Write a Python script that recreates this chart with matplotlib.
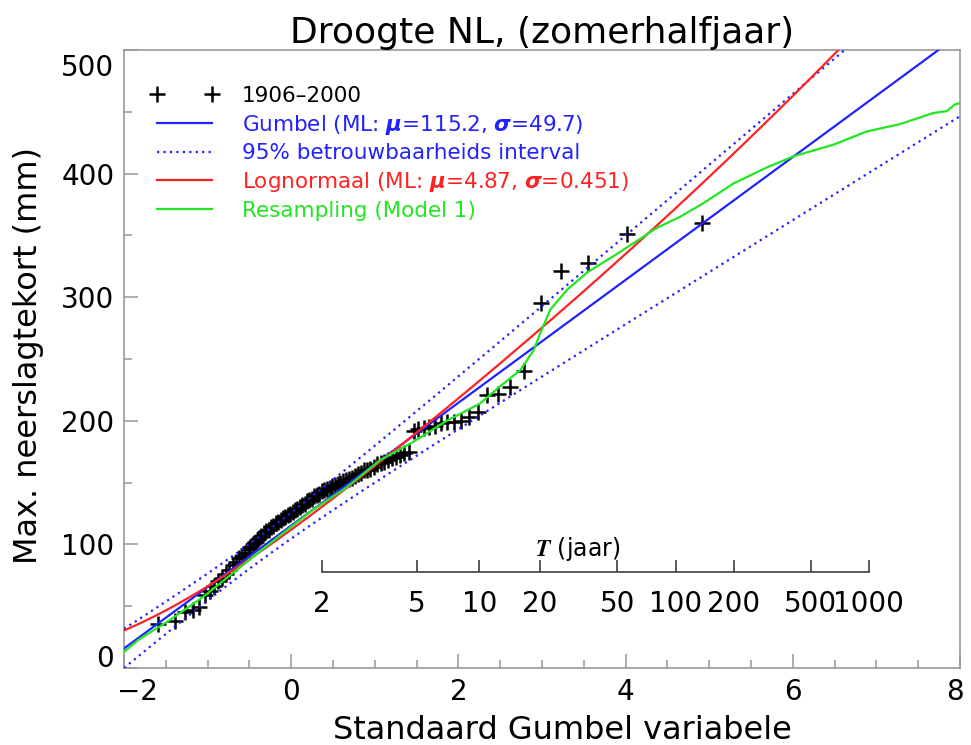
import math
import numpy as np
import matplotlib
matplotlib.use("Agg")
import matplotlib.pyplot as plt
import matplotlib.transforms as mtransforms
from matplotlib.ticker import MultipleLocator, NullLocator, FixedLocator

# ---------------- data ----------------
title = "Droogte NL, (zomerhalfjaar)"
xlabel = "Standaard Gumbel variabele"
ylabel = "Max. neerslagtekort (mm)"

# sorted observed maxima 1906-2000 (mm)
obs_sorted = [36, 38, 45, 47, 49,
              59, 62, 66, 70, 73, 76, 79, 83, 86, 89, 91, 93, 96, 98, 100,
              102, 104, 107, 109, 111, 112, 114, 115, 117, 118, 120, 121, 122, 124, 125,
              126, 128, 129, 130, 132, 133, 135, 136, 137, 139, 140, 141, 143, 144, 145,
              146, 147, 148, 149, 150, 151, 152, 153, 154,
              155, 157, 158, 160, 160, 161, 163, 165, 166, 167, 168, 170, 171, 172, 174, 175,
              192, 193, 194, 195, 196, 198, 199, 199, 200, 203,
              207, 221, 222, 227, 240, 295, 321, 328, 351, 360]

gumbel_mu, gumbel_sigma = 115.2, 49.7
logn_mu, logn_sigma = 4.87, 0.451

resamp_x = [-2.0, -1.83, -1.45, -1.05, -0.65, -0.25, 0.26, 0.66, 1.06, 1.46, 1.86,
            2.26, 2.5, 2.74, 2.90, 2.98, 3.10, 3.30, 3.54, 3.85, 4.17, 4.37, 4.65,
            4.93, 5.29, 5.69, 6.01, 6.49, 6.88, 7.28, 7.68, 7.84, 7.94, 8.0]
resamp_y = [13, 22.7, 38.9, 57.7, 79.4, 101, 128, 146, 168, 183, 200,
            214, 228, 241, 257, 271, 290, 306, 320, 333, 347, 356, 365,
            376, 392, 405, 414, 423.5, 434, 440, 449, 450.5, 456, 457]

x_ticks = [-2, 0, 2, 4, 6, 8]
y_ticks = [0, 100, 200, 300, 400, 500]
T_ticks = [2, 5, 10, 20, 50, 100, 200, 500, 1000]

# ---------------- figure ----------------
W, H = 971, 745
fig = plt.figure(figsize=(W / 100, H / 100), dpi=100)
ax = fig.add_axes([124 / W, (H - 668) / H, 836 / W, 618 / H])

n = len(obs_sorted)
rank = np.arange(1, n + 1)
pp = (rank - 0.3) / (n + 0.4)
x_obs = -np.log(-np.log(pp))

xg = np.linspace(-2, 8, 400)
yg = gumbel_mu + gumbel_sigma * xg
se = gumbel_sigma / math.sqrt(n) * np.sqrt(1.1087 + 0.5140 * xg + 0.6079 * xg ** 2)
y_up = yg + 1.96 * se
y_lo = yg - 1.96 * se

z = np.linspace(-4.5, 4.5, 600)
erf = np.vectorize(math.erf)
pz = 0.5 * (1 + erf(z / math.sqrt(2)))
x_ln = -np.log(-np.log(pz))
y_ln = np.exp(logn_mu + logn_sigma * z)

BLUE = "#2222ff"
RED = "#ff2222"
GREEN = "#22e622"

h_obs, = ax.plot(x_obs, obs_sorted, ls="none", marker="+", ms=11, mew=1.8,
                 color="black", label="1906\u20132000", zorder=3)
h_g, = ax.plot(xg, yg, color=BLUE, lw=1.6,
               label=r"Gumbel (ML: $\boldsymbol{\mu}$=115.2, $\boldsymbol{\sigma}$=49.7)", zorder=4)
h_ci, = ax.plot(xg, y_up, color=BLUE, lw=1.6, ls=(0, (1, 1.9)),
                label="95% betrouwbaarheids interval", zorder=4)
ax.plot(xg, y_lo, color=BLUE, lw=1.6, ls=(0, (1, 1.9)), zorder=4)
h_ln, = ax.plot(x_ln, y_ln, color=RED, lw=1.6,
                label=r"Lognormaal (ML: $\boldsymbol{\mu}$=4.87, $\boldsymbol{\sigma}$=0.451)", zorder=5)
h_rs, = ax.plot(resamp_x, resamp_y, color=GREEN, lw=1.6,
                label="Resampling (Model 1)", zorder=6)

ax.set_xlim(-2, 8)
ax.set_ylim(0, 500)

FRAME = "#999999"
for s in ax.spines.values():
    s.set_color(FRAME)
    s.set_linewidth(1.2)

ax.set_xticks(x_ticks)
ax.set_yticks(y_ticks)
ax.xaxis.set_minor_locator(MultipleLocator(0.5))
ax.yaxis.set_minor_locator(MultipleLocator(50))
ax.tick_params(which="both", direction="in", color=FRAME, width=1.1,
               top=False, right=False, labelsize=20)
ax.tick_params(which="major", length=10, pad=7)
ax.tick_params(which="minor", length=6)


def shift(label, dx, dy):
    off = mtransforms.ScaledTranslation(dx / 100, dy / 100, fig.dpi_scale_trans)
    label.set_transform(label.get_transform() + off)


xt = ax.xaxis.get_major_ticks()
shift(xt[0].label1, 13, 0)
shift(xt[-1].label1, -5, 0)
yt = ax.yaxis.get_major_ticks()
shift(yt[0].label1, 0, 12)
shift(yt[-1].label1, 0, -15)

ax.set_title(title, fontsize=26, pad=5)
ax.set_xlabel(xlabel, fontsize=23)
ax.set_ylabel(ylabel, fontsize=23)
ax.xaxis.set_label_coords(0.524, -0.076)
ax.yaxis.set_label_coords(-0.096, 0.505)

fs_leg = 15.5
fs_px = fs_leg * 100 / 72
hl = 55 / fs_px + 0.6
ax.legend(handles=[h_obs, h_g, h_ci, h_ln, h_rs], loc="upper left",
          bbox_to_anchor=((157 - 0.3 * fs_px - 124) / 836, 0.942),
          frameon=False, fontsize=fs_leg,
          numpoints=2, handlelength=hl,
          handletextpad=(242 - 157 - 55 - 0.3 * fs_px) / fs_px,
          labelspacing=0.31, borderpad=0, borderaxespad=0,
          labelcolor="linecolor")


# return-period axis
def g2T(x):
    x = np.asarray(x, float)
    with np.errstate(all="ignore"):
        return 1.0 / (1.0 - np.exp(-np.exp(-x)))


def T2g(T):
    T = np.asarray(T, float)
    with np.errstate(all="ignore"):
        return -np.log(-np.log(1.0 - 1.0 / T))


sec = ax.secondary_xaxis((668 - 572) / 618, functions=(g2T, T2g))
sec.xaxis.set_major_locator(FixedLocator(T_ticks))
sec.set_xticklabels([str(t) for t in T_ticks])
sec.xaxis.set_minor_locator(NullLocator())
sec.spines["bottom"].set_bounds(T_ticks[0], T_ticks[-1])
sec.spines["bottom"].set_color("#404040")
sec.spines["bottom"].set_linewidth(1.2)
sec.tick_params(direction="in", length=9, width=1.2, color="#404040",
                labelsize=20, pad=13)

ax.text(3.43, 96, r"$\boldsymbol{T}$ (jaar)", fontsize=17, ha="center", va="center",
        math_fontfamily="stix")

fig.savefig("out.png", dpi=100)
